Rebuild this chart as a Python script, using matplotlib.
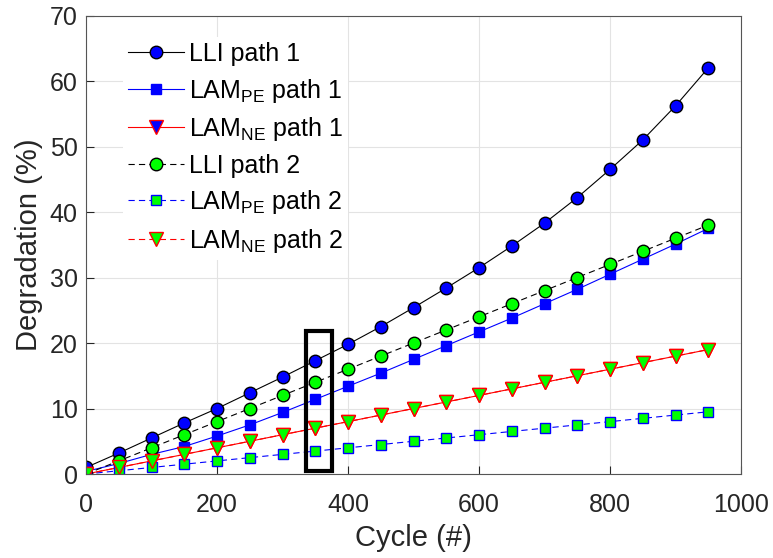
import numpy as np
import matplotlib.pyplot as plt
from matplotlib.patches import Rectangle

plt.rcParams["font.family"] = ["Liberation Sans", "DejaVu Sans"]
plt.rcParams["mathtext.fontset"] = "custom"
plt.rcParams["mathtext.rm"] = "Liberation Sans"
plt.rcParams["mathtext.it"] = "Liberation Sans:italic"
plt.rcParams["lines.scale_dashes"] = False

# cycles
cycle = np.arange(0, 1000, 50)

# degradation values (%)
lli_1 = [1.0, 3.2, 5.5, 7.8, 10.0, 12.4, 14.8, 17.3, 19.8, 22.5,
         25.4, 28.4, 31.5, 34.8, 38.3, 42.2, 46.5, 51.0, 56.2, 62.0]
lampe_1 = [0.4, 1.6, 3.0, 4.2, 5.8, 7.5, 9.4, 11.4, 13.4, 15.4,
           17.5, 19.6, 21.7, 23.8, 26.0, 28.2, 30.5, 32.8, 35.1, 37.5]
lamne_1 = [0.0, 1.0, 2.0, 3.0, 4.0, 5.0, 6.0, 7.0, 8.0, 9.0,
           10.0, 11.0, 12.0, 13.0, 14.0, 15.0, 16.0, 17.0, 18.0, 19.0]
lli_2 = [0.0, 2.0, 4.0, 6.0, 8.0, 10.0, 12.0, 14.0, 16.0, 18.0,
         20.0, 22.0, 24.0, 26.0, 28.0, 30.0, 32.0, 34.0, 36.0, 38.0]
lampe_2 = [0.0, 0.5, 1.0, 1.5, 2.0, 2.5, 3.0, 3.5, 4.0, 4.5,
           5.0, 5.5, 6.0, 6.5, 7.0, 7.5, 8.0, 8.5, 9.0, 9.5]
lamne_2 = lamne_1

labels = ["LLI path 1", r"LAM$_{\mathrm{PE}}$ path 1", r"LAM$_{\mathrm{NE}}$ path 1",
          "LLI path 2", r"LAM$_{\mathrm{PE}}$ path 2", r"LAM$_{\mathrm{NE}}$ path 2"]

fig = plt.figure(figsize=(7.73, 5.58), dpi=100)
ax = fig.add_axes([0.1113, 0.1505, 0.8473, 0.8217])

blue = "#0000ff"
green = "#00ff00"
dash = (0, (4.5, 3))
ax.plot(cycle, lli_1, "-o", color="k", lw=0.8, mfc=blue, mec="k", ms=9, label=labels[0])
ax.plot(cycle, lampe_1, "-s", color=blue, lw=0.8, mfc=blue, mec=blue, ms=7, label=labels[1])
ax.plot(cycle, lamne_1, "-v", color="r", lw=0.8, mfc=blue, mec="r", ms=9.5, label=labels[2])
ax.plot(cycle, lli_2, marker="o", ls=dash, color="k", lw=0.8, mfc=green, mec="k", ms=9, label=labels[3])
ax.plot(cycle, lampe_2, marker="s", ls=dash, color=blue, lw=0.8, mfc=green, mec=blue, ms=7, label=labels[4])
ax.plot(cycle, lamne_2, marker="v", ls=dash, color="r", lw=0.8, mfc=green, mec="r", ms=9.5, label=labels[5])

# highlight box around cycle 350
ax.add_patch(Rectangle((336, 0.4), 39, 21.4, fill=False, ec="k", lw=3, zorder=5))

ax.set_xlim(0, 1000)
ax.set_ylim(0, 70)
ax.set_xticks(np.arange(0, 1001, 200))
ax.set_yticks(np.arange(0, 71, 10))
ax.grid(True, color="#e3e3e3", lw=0.8)
ax.set_axisbelow(True)
ax.tick_params(direction="in", labelsize=18, colors="#262626", length=6)
ax.tick_params(axis="x", pad=14)
ax.tick_params(axis="y", pad=6)
for s in ax.spines.values():
    s.set_color("#555555")
    s.set_linewidth(0.8)

ax.set_xlabel("Cycle (#)", fontsize=21, color="#262626", labelpad=5)
ax.set_ylabel("Degradation (%)", fontsize=21, color="#262626", labelpad=5)

leg = ax.legend(loc="upper left", bbox_to_anchor=(0.037, 0.98), fontsize=18, frameon=True,
                handlelength=2.25, handletextpad=0.2, labelspacing=0.42, borderpad=0.2)
leg.get_frame().set_edgecolor("none")
leg.get_frame().set_facecolor("white")
leg.get_frame().set_alpha(1)

fig.savefig("out.png", dpi=100)
